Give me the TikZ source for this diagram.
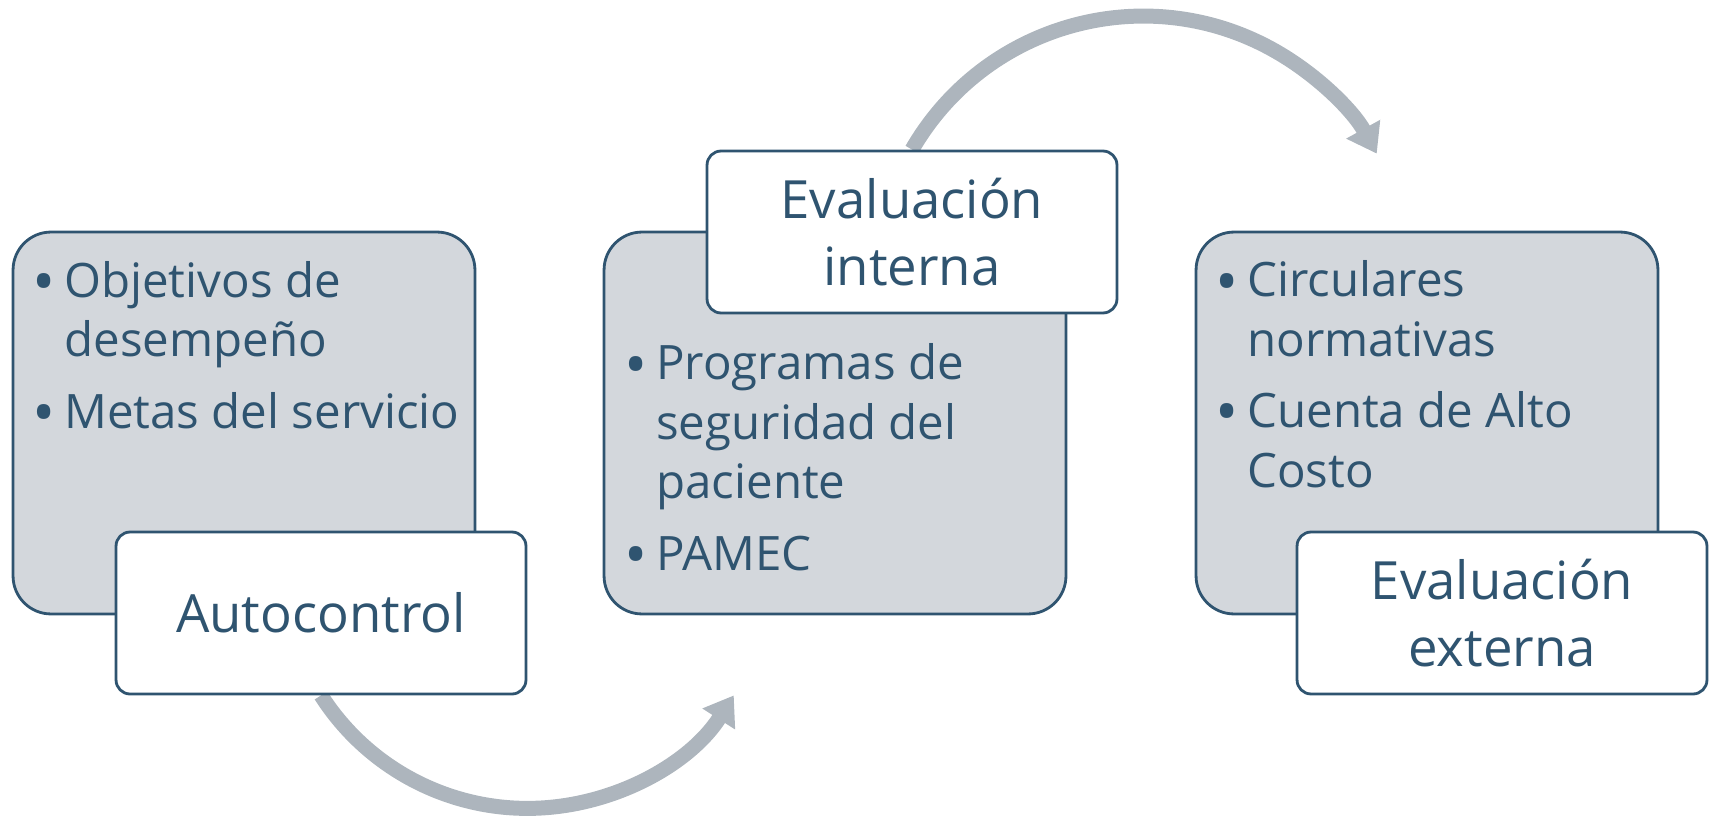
\documentclass[tikz,border=0pt]{standalone}
\usepackage{fontspec}
\setmainfont{Open Sans}
\usetikzlibrary{arrows.meta,backgrounds}
\definecolor{slateblue}{HTML}{2F5470}
\definecolor{panelgrey}{HTML}{D3D7DC}
\definecolor{arrowgrey}{HTML}{ADB5BD}
\tikzset{
  greybox/.style={draw=slateblue, line width=1.6pt, fill=panelgrey, rounded corners=0.76cm,
    minimum width=9.24cm, minimum height=7.64cm, inner sep=0pt},
  titlebox/.style={draw=slateblue, line width=1.6pt, fill=white, rounded corners=0.28cm,
    minimum width=8.2cm, minimum height=3.24cm, inner sep=0pt, align=center,
    text=slateblue, font=\fontsize{30}{38}\selectfont},
  listtxt/.style={anchor=base west, align=left, inner sep=0pt, text=slateblue,
    font=\fontsize{27}{34}\selectfont},
  cyclearrow/.style={draw=arrowgrey, line width=0.3cm,
    -{Triangle[length=0.56cm, width=0.74cm]}}
}
\newcommand{\bul}{\makebox[0.64cm][l]{\raisebox{-0.14em}{\scalebox{1.3}{\textbullet}}}}
\newcommand{\ind}{\makebox[0.64cm]{}}
\begin{document}
\begin{tikzpicture}[x=0.02cm, y=0.02cm]
\useasboundingbox (0,0) rectangle (1709,823);
\foreach \cx/\nm in {244/box1, 835/box2, 1427/box3}{
\node[greybox] (\nm) at (\cx,400) {};
}
% lists sit on their last baseline
\node[listtxt] (list1) at (32,395) {\bul Objetivos de\\\ind desempeño\\[6.5pt]\bul Metas del servicio};
\node[listtxt] (list2) at (624,253) {\bul Programas de\\\ind seguridad del\\\ind paciente\\[6.5pt]\bul PAMEC};
\node[listtxt] (list3) at (1215,336) {\bul Circulares\\\ind normativas\\[6.5pt]\bul Cuenta de Alto\\\ind Costo};
\node[titlebox] (autoctl) at (321,210) {Autocontrol};
\node[titlebox] (intern) at (912,591) {Evaluación\\interna};
\node[titlebox] (extern) at (1502,210) {Evaluación\\externa};
\begin{pgfonlayer}{background}
\draw[cyclearrow] (autoctl.south) arc[start angle=212.6, end angle=327.4, radius=245];
\draw[cyclearrow] (intern.north) arc[start angle=150, end angle=29, radius=267];
\end{pgfonlayer}
\end{tikzpicture}
\end{document}
